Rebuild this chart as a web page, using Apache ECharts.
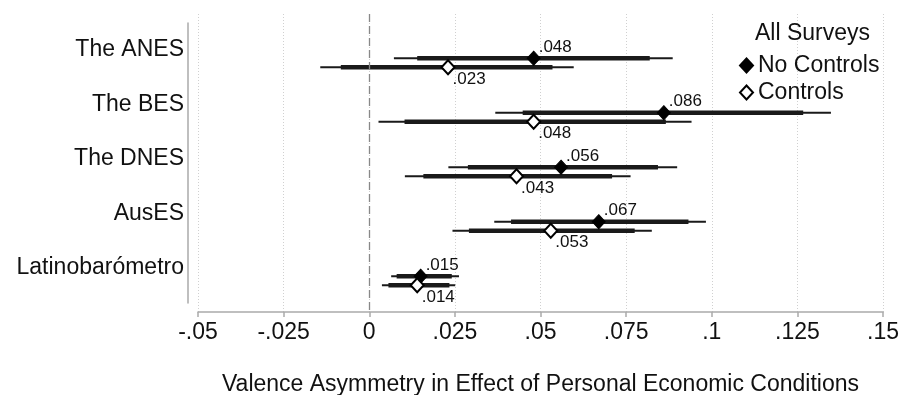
<!DOCTYPE html>
<html>
<head>
<meta charset="utf-8">
<script src="https://cdn.jsdelivr.net/npm/echarts@6/dist/echarts.min.js"></script>
<style>
  html, body { margin: 0; padding: 0; background: #fff; }
  #chart { width: 900px; height: 395px; }
</style>
</head>
<body>
<div id="chart"></div>
<script>
// surveys, top to bottom
const categories = ['The ANES', 'The BES', 'The DNES', 'AusES', 'Latinobarómetro'];

// each row: [lo95, lo90, estimate, hi90, hi95]
const noControls = [
  [0.0072, 0.0140, 0.048, 0.0819, 0.0886],
  [0.0368, 0.0448, 0.086, 0.1267, 0.1348],
  [0.0231, 0.0288, 0.056, 0.0843, 0.0899],
  [0.0365, 0.0414, 0.067, 0.0932, 0.0983],
  [0.0064, 0.0080, 0.015, 0.0241, 0.0262]
];
const controls = [
  [-0.0143, -0.0083, 0.023, 0.0535, 0.0597],
  [0.0027, 0.0103, 0.048, 0.0866, 0.0941],
  [0.0104, 0.0158, 0.043, 0.0709, 0.0763],
  [0.0243, 0.0291, 0.053, 0.0775, 0.0825],
  [0.0037, 0.0056, 0.014, 0.0234, 0.0251]
];

const xTicks = [-0.05, 0.15, 0.025]; // min, max, step

const FONT = '"Liberation Sans", Arial, sans-serif';
const INK = '#1a1a1a';

// rows sit on 1..n; the two estimates are drawn slightly below each label
const NC_SHIFT = 0.15;
const C_SHIFT = 0.315;

function fmt(v) {
  if (Math.abs(v) < 1e-9) return '0';
  return String(+v.toFixed(3)).replace(/^(-?)0\./, '$1.');
}

function ciRows(rows, shift) {
  return rows.map((r, i) => [r[0], r[1], r[2], r[3], r[4], i + 1 + shift]);
}

function renderCI(params, api) {
  const y = api.value(5);
  const p95a = api.coord([api.value(0), y]);
  const p95b = api.coord([api.value(4), y]);
  const p90a = api.coord([api.value(1), y]);
  const p90b = api.coord([api.value(3), y]);
  return {
    type: 'group',
    children: [
      {
        type: 'line',
        shape: { x1: p95a[0], y1: p95a[1], x2: p95b[0], y2: p95b[1] },
        style: { stroke: INK, lineWidth: 2 }
      },
      {
        type: 'line',
        shape: { x1: p90a[0], y1: p90a[1], x2: p90b[0], y2: p90b[1] },
        style: { stroke: INK, lineWidth: 4.5 }
      }
    ]
  };
}

const chart = echarts.init(document.getElementById('chart'), null, { renderer: 'canvas' });

chart.setOption({
  animation: false,
  backgroundColor: '#fff',
  textStyle: { fontFamily: FONT },
  title: {
    text: 'All Surveys',
    left: 750,
    top: 17,
    textStyle: { fontFamily: FONT, fontSize: 23, fontWeight: 'normal', color: '#111' }
  },
  legend: {
    orient: 'vertical',
    left: 734,
    top: 48,
    itemWidth: 13,
    itemHeight: 14,
    itemGap: 2,
    data: ['No Controls', 'Controls'],
    textStyle: { fontFamily: FONT, fontSize: 23, color: '#111', lineHeight: 25, padding: [0, 0, 0, 0] }
  },
  grid: [
    { left: 198, right: 17, top: 14, bottom: 83, outerBoundsMode: 'none' },
    { left: 198, right: 17, top: 23, bottom: 92, outerBoundsMode: 'none' }
  ],
  xAxis: [
    {
      gridIndex: 0,
      type: 'value',
      min: xTicks[0],
      max: xTicks[1],
      interval: xTicks[2],
      name: 'Valence Asymmetry in Effect of Personal Economic Conditions',
      nameLocation: 'middle',
      nameGap: 61,
      nameTextStyle: { fontFamily: FONT, fontSize: 23, color: '#111' },
      axisLine: { onZero: false, lineStyle: { color: '#aaa', width: 1.5 } },
      axisTick: { show: true, length: 5, lineStyle: { color: '#aaa', width: 1.5 } },
      axisLabel: {
        fontFamily: FONT, fontSize: 23, color: '#111', margin: 9,
        formatter: fmt
      },
      splitLine: { show: true, lineStyle: { color: '#d0d0d0', type: [1, 2], width: 1 } }
    },
    {
      gridIndex: 1,
      type: 'value',
      show: false
    }
  ],
  yAxis: [
    {
      gridIndex: 0,
      type: 'value',
      inverse: true,
      min: 1 - 36 / 54.5,
      max: 1 + 262 / 54.5,
      offset: 10,
      axisLine: { show: false, onZero: false },
      axisTick: { show: false },
      splitLine: { show: false },
      axisLabel: {
        customValues: categories.map((c, i) => i + 1),
        formatter: v => categories[Math.round(v) - 1] || '',
        fontFamily: FONT, fontSize: 23, color: '#111', margin: 4
      }
    },
    {
      gridIndex: 1,
      type: 'value',
      offset: 10,
      axisLine: { show: true, onZero: false, lineStyle: { color: '#aaa', width: 1.5 } },
      axisTick: { show: false },
      axisLabel: { show: false },
      splitLine: { show: false }
    }
  ],
  series: [
    {
      type: 'custom',
      name: 'ci-nc',
      xAxisIndex: 0,
      yAxisIndex: 0,
      renderItem: renderCI,
      encode: { x: [0, 1, 2, 3, 4], y: 5 },
      data: ciRows(noControls, NC_SHIFT),
      silent: true,
      z: 2,
      markLine: {
        silent: true,
        symbol: 'none',
        label: { show: false },
        lineStyle: { color: '#888', type: [8, 4], width: 1.3 },
        data: [{ xAxis: 0 }]
      }
    },
    {
      type: 'custom',
      name: 'ci-c',
      xAxisIndex: 0,
      yAxisIndex: 0,
      renderItem: renderCI,
      encode: { x: [0, 1, 2, 3, 4], y: 5 },
      data: ciRows(controls, C_SHIFT),
      silent: true,
      z: 2
    },
    {
      type: 'scatter',
      name: 'No Controls',
      symbol: 'diamond',
      symbolSize: [13, 14],
      itemStyle: { color: '#000', borderColor: '#000', borderWidth: 1, opacity: 1 },
      data: noControls.map((r, i) => [r[2], i + 1 + NC_SHIFT]),
      label: {
        show: true,
        position: [12, 5],
        align: 'left',
        verticalAlign: 'bottom',
        fontFamily: FONT, fontSize: 17, color: '#111',
        formatter: p => fmt(p.value[0])
      },
      z: 5
    },
    {
      type: 'scatter',
      name: 'Controls',
      symbol: 'diamond',
      symbolSize: [13, 14],
      itemStyle: { color: '#fff', borderColor: '#000', borderWidth: 2, opacity: 1 },
      data: controls.map((r, i) => [r[2], i + 1 + C_SHIFT]),
      label: {
        show: true,
        position: [12, 20],
        align: 'left',
        verticalAlign: 'middle',
        fontFamily: FONT, fontSize: 17, color: '#111',
        formatter: p => fmt(p.value[0])
      },
      z: 5
    }
  ]
});
</script>
</body>
</html>
